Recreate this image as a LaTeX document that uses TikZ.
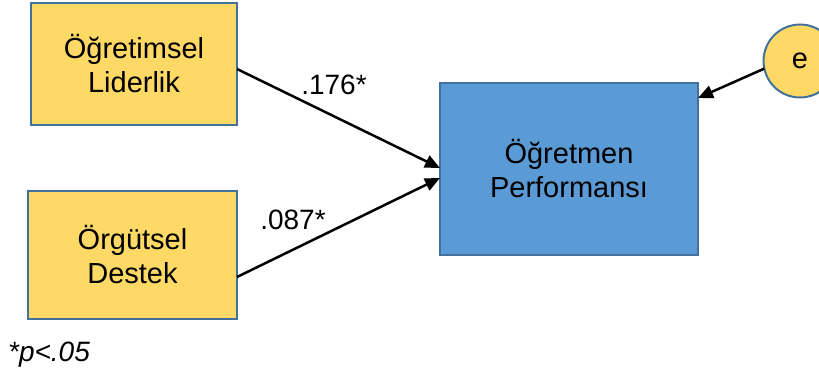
\documentclass[tikz,border=0pt]{standalone}
\usepackage{fontspec}
\setmainfont{Liberation Sans}
\usetikzlibrary{arrows.meta}
\definecolor{boxyellow}{HTML}{FFD966}
\definecolor{boxblue}{HTML}{5B9BD5}
\definecolor{edgeblue}{HTML}{41719C}
\begin{document}
\begin{tikzpicture}[x=1pt,y=-1pt,
  varbox/.style={draw=edgeblue, line width=2pt, inner sep=0pt, outer sep=0pt,
    align=center, font=\fontsize{29}{34}\selectfont},
  predictor/.style={varbox, fill=boxyellow},
  outcome/.style={varbox, fill=boxblue},
  errterm/.style={varbox, fill=boxyellow, circle, minimum size=73pt},
  path/.style={line width=2.5pt, -{Triangle[length=15pt,width=13pt]}},
  coef/.style={font=\fontsize{28}{32}\selectfont, inner sep=0pt}]
\clip (0,0) rectangle (819,374);

% observed variables
\node[predictor, minimum width=206pt, minimum height=122pt] (lid) at (134,64)
  {Öğretimsel\\Liderlik};
\node[predictor, minimum width=209pt, minimum height=128pt] (des) at (132.5,255)
  {Örgütsel\\Destek};
\node[outcome, minimum width=258pt, minimum height=172pt] (perf) at (569,169)
  {Öğretmen\\Performansı};
\node[errterm] (err) at (800,61) {e};

% structural paths
\draw[path] ([yshift=-5pt]lid.east) -- ([yshift=1pt]perf.west);
\draw[path] ([yshift=-22pt]des.east) -- ([yshift=-9pt]perf.west);
\draw[path] (err.192) -- ([yshift=-15pt]perf.north east);

% path coefficients
\node[coef] (c1) at (334,85) {.176*};
\node[coef] (c2) at (293,220) {.087*};
\node[coef, font=\fontsize{28}{32}\selectfont\itshape] (note) at (49,355) {*p<.05};
\end{tikzpicture}
\end{document}
